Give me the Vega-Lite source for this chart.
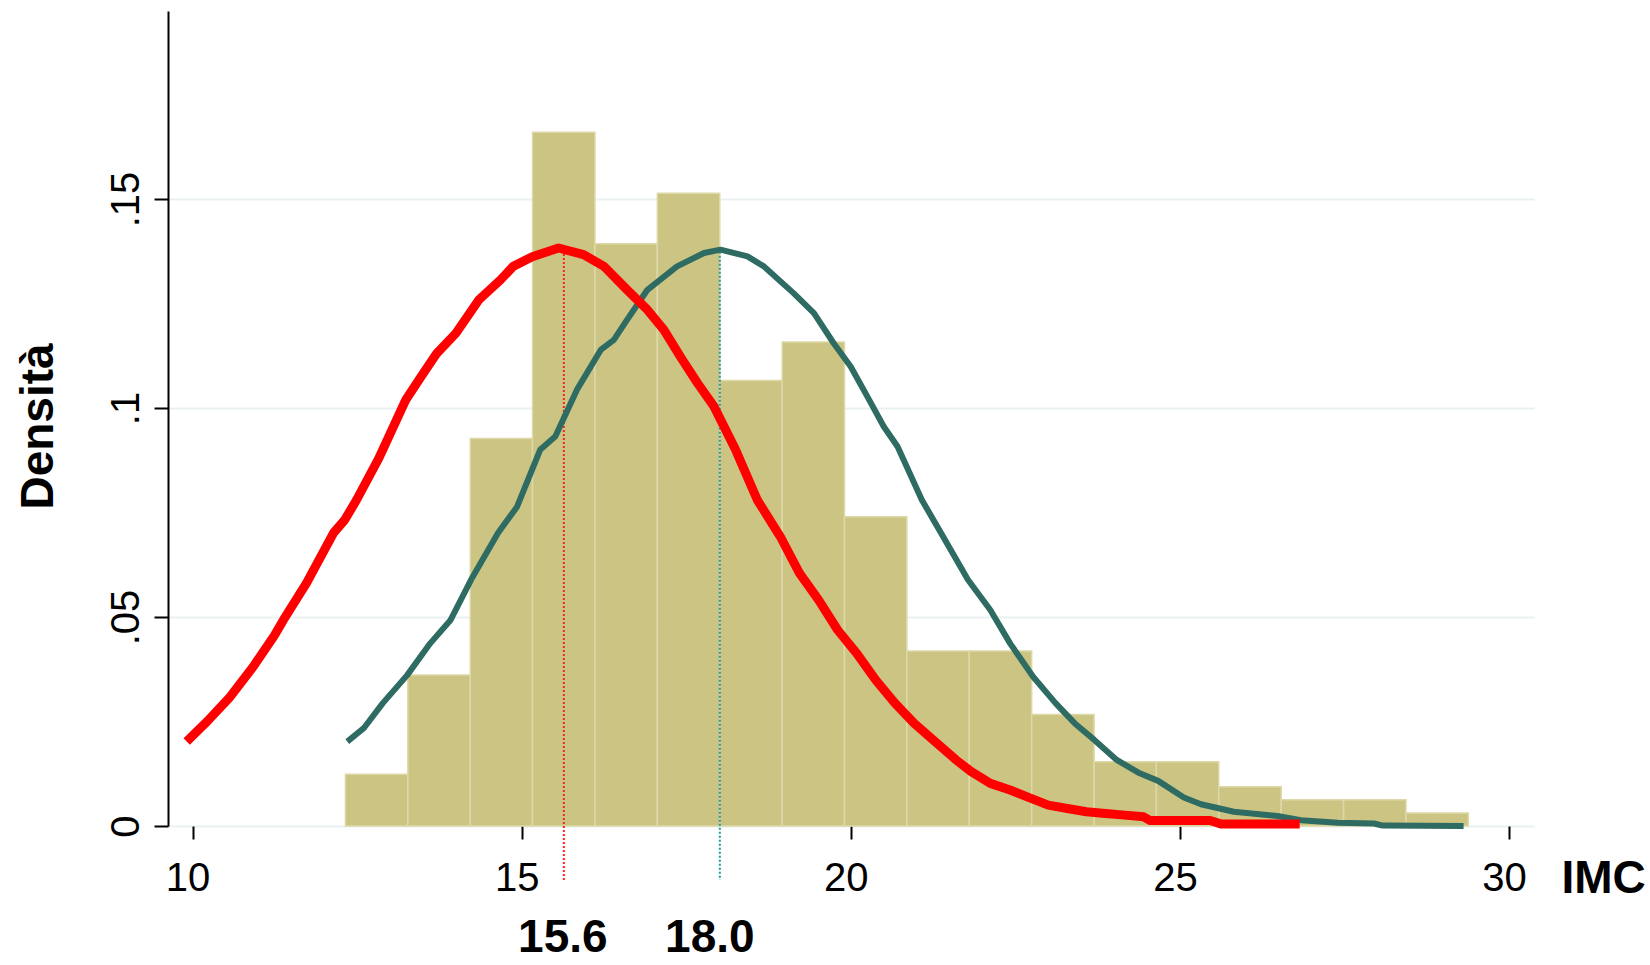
{
  "$schema": "https://vega.github.io/schema/vega-lite/v6.json",
  "width": 1366,
  "height": 815,
  "autosize": "none",
  "padding": {"left": 168, "top": 11, "right": 116, "bottom": 139},
  "background": "white",
  "config": {
    "view": {"stroke": null},
    "font": "Liberation Sans",
    "axis": {"labelFont": "Liberation Sans", "titleFont": "Liberation Sans"}
  },
  "datasets": {
    "istogramma": [
      {"inizio": 12.322, "fine": 13.270, "densita": 0.0124},
      {"inizio": 13.270, "fine": 14.218, "densita": 0.0361},
      {"inizio": 14.218, "fine": 15.165, "densita": 0.0927},
      {"inizio": 15.165, "fine": 16.113, "densita": 0.1660},
      {"inizio": 16.113, "fine": 17.061, "densita": 0.1393},
      {"inizio": 17.061, "fine": 18.009, "densita": 0.1514},
      {"inizio": 18.009, "fine": 18.957, "densita": 0.1066},
      {"inizio": 18.957, "fine": 19.904, "densita": 0.1158},
      {"inizio": 19.904, "fine": 20.852, "densita": 0.0740},
      {"inizio": 20.852, "fine": 21.800, "densita": 0.0419},
      {"inizio": 21.800, "fine": 22.748, "densita": 0.0419},
      {"inizio": 22.748, "fine": 23.696, "densita": 0.0267},
      {"inizio": 23.696, "fine": 24.643, "densita": 0.0154},
      {"inizio": 24.643, "fine": 25.591, "densita": 0.0154},
      {"inizio": 25.591, "fine": 26.539, "densita": 0.0094},
      {"inizio": 26.539, "fine": 27.487, "densita": 0.0063},
      {"inizio": 27.487, "fine": 28.435, "densita": 0.0063},
      {"inizio": 28.435, "fine": 29.382, "densita": 0.0031}
    ],
    "curva_verde": [
      {"imc": 12.35, "densita": 0.0202},
      {"imc": 12.60, "densita": 0.0234},
      {"imc": 12.89, "densita": 0.0294},
      {"imc": 13.26, "densita": 0.0361},
      {"imc": 13.61, "densita": 0.0437},
      {"imc": 13.92, "densita": 0.0493},
      {"imc": 14.23, "densita": 0.0589},
      {"imc": 14.64, "densita": 0.0701},
      {"imc": 14.93, "densita": 0.0764},
      {"imc": 15.28, "densita": 0.0900},
      {"imc": 15.51, "densita": 0.0932},
      {"imc": 15.84, "densita": 0.1044},
      {"imc": 16.20, "densita": 0.1139},
      {"imc": 16.40, "densita": 0.1163},
      {"imc": 16.60, "densita": 0.1211},
      {"imc": 16.91, "densita": 0.1283},
      {"imc": 17.36, "densita": 0.1339},
      {"imc": 17.77, "densita": 0.1371},
      {"imc": 18.02, "densita": 0.1379},
      {"imc": 18.43, "densita": 0.1363},
      {"imc": 18.68, "densita": 0.1339},
      {"imc": 19.13, "densita": 0.1275},
      {"imc": 19.44, "densita": 0.1227},
      {"imc": 19.74, "densita": 0.1155},
      {"imc": 20.00, "densita": 0.1099},
      {"imc": 20.25, "densita": 0.1028},
      {"imc": 20.50, "densita": 0.0956},
      {"imc": 20.71, "densita": 0.0908},
      {"imc": 21.08, "densita": 0.0780},
      {"imc": 21.43, "densita": 0.0685},
      {"imc": 21.78, "densita": 0.0589},
      {"imc": 22.12, "densita": 0.0517},
      {"imc": 22.42, "densita": 0.0437},
      {"imc": 22.77, "densita": 0.0357},
      {"imc": 23.11, "densita": 0.0294},
      {"imc": 23.40, "densita": 0.0246},
      {"imc": 23.70, "densita": 0.0206},
      {"imc": 24.04, "densita": 0.0158},
      {"imc": 24.39, "densita": 0.0126},
      {"imc": 24.67, "densita": 0.0108},
      {"imc": 25.06, "densita": 0.0068},
      {"imc": 25.32, "densita": 0.0052},
      {"imc": 25.82, "densita": 0.0034},
      {"imc": 26.48, "densita": 0.0024},
      {"imc": 26.84, "densita": 0.0014},
      {"imc": 27.40, "densita": 0.0008},
      {"imc": 27.95, "densita": 0.0006},
      {"imc": 28.08, "densita": 0.0001},
      {"imc": 29.31, "densita": 0.0000}
    ],
    "curva_rossa": [
      {"imc": 9.91, "densita": 0.0202},
      {"imc": 10.22, "densita": 0.0250},
      {"imc": 10.57, "densita": 0.0309},
      {"imc": 10.92, "densita": 0.0381},
      {"imc": 11.24, "densita": 0.0455},
      {"imc": 11.38, "densita": 0.0493},
      {"imc": 11.73, "densita": 0.0581},
      {"imc": 12.14, "densita": 0.0701},
      {"imc": 12.31, "densita": 0.0732},
      {"imc": 12.49, "densita": 0.0780},
      {"imc": 12.83, "densita": 0.0880},
      {"imc": 13.24, "densita": 0.1020},
      {"imc": 13.47, "densita": 0.1075},
      {"imc": 13.71, "densita": 0.1131},
      {"imc": 14.00, "densita": 0.1179},
      {"imc": 14.35, "densita": 0.1259},
      {"imc": 14.68, "densita": 0.1307},
      {"imc": 14.87, "densita": 0.1339},
      {"imc": 15.16, "densita": 0.1362},
      {"imc": 15.56, "densita": 0.1383},
      {"imc": 15.94, "densita": 0.1367},
      {"imc": 16.25, "densita": 0.1339},
      {"imc": 16.60, "densita": 0.1283},
      {"imc": 16.91, "densita": 0.1235},
      {"imc": 17.16, "densita": 0.1187},
      {"imc": 17.41, "densita": 0.1123},
      {"imc": 17.67, "densita": 0.1060},
      {"imc": 17.92, "densita": 0.1004},
      {"imc": 18.25, "densita": 0.0900},
      {"imc": 18.58, "densita": 0.0780},
      {"imc": 18.93, "densita": 0.0692},
      {"imc": 19.22, "densita": 0.0605},
      {"imc": 19.51, "densita": 0.0541},
      {"imc": 19.80, "densita": 0.0469},
      {"imc": 20.09, "densita": 0.0413},
      {"imc": 20.38, "densita": 0.0349},
      {"imc": 20.67, "densita": 0.0294},
      {"imc": 20.96, "densita": 0.0246},
      {"imc": 21.25, "densita": 0.0206},
      {"imc": 21.60, "densita": 0.0158},
      {"imc": 21.83, "densita": 0.0130},
      {"imc": 22.12, "densita": 0.0102},
      {"imc": 22.42, "densita": 0.0086},
      {"imc": 22.71, "densita": 0.0068},
      {"imc": 23.00, "densita": 0.0050},
      {"imc": 23.29, "densita": 0.0042},
      {"imc": 23.58, "densita": 0.0034},
      {"imc": 23.87, "densita": 0.0030},
      {"imc": 24.16, "densita": 0.0026},
      {"imc": 24.45, "densita": 0.0022},
      {"imc": 24.55, "densita": 0.0013},
      {"imc": 25.46, "densita": 0.0013},
      {"imc": 25.62, "densita": 0.0005},
      {"imc": 26.82, "densita": 0.0005}
    ],
    "medie": [
      {"gruppo": "rosso", "media": 15.64, "picco": 0.1378, "etichetta": "15.6"},
      {"gruppo": "verde", "media": 18.01, "picco": 0.1374, "etichetta": "18.0"}
    ]
  },
  "layer": [
    {
      "data": {"name": "istogramma"},
      "mark": {"type": "rect", "fill": "#CCC482", "stroke": "#DDD8A8", "strokeWidth": 1.5},
      "encoding": {
        "x": {
          "field": "inizio", "type": "quantitative",
          "scale": {"domain": [9.626, 30.38], "nice": false, "zero": false},
          "axis": {
            "values": [10, 15, 20, 25, 30],
            "format": "d",
            "domain": false,
            "grid": false,
            "ticks": true, "tickSize": 13, "tickWidth": 2, "tickColor": "black",
            "labelFontSize": 40, "labelColor": "black",
            "labelBaseline": "alphabetic", "labelPadding": 51, "labelOffset": -5,
            "labelFlush": false, "labelOverlap": false,
            "title": "IMC", "titleFontSize": 46, "titleFontWeight": "bold", "titleColor": "black",
            "titleAnchor": "start", "titleAlign": "left", "titleBaseline": "alphabetic",
            "titleX": 1393, "titleY": 66
          }
        },
        "x2": {"field": "fine"},
        "y": {
          "field": "densita", "type": "quantitative",
          "scale": {"domain": [0, 0.195], "nice": false},
          "axis": {
            "values": [0, 0.05, 0.1, 0.15],
            "labelExpr": "datum.value == 0 ? '0' : replace(format(datum.value, '.2~f'), '0.', '.')",
            "domain": true, "domainColor": "black", "domainWidth": 2,
            "grid": true, "gridColor": "#E9F1F3", "gridWidth": 2,
            "ticks": true, "tickSize": 14, "tickWidth": 2, "tickColor": "black",
            "labelFontSize": 40, "labelColor": "black", "labelAngle": 270,
            "labelAlign": "center", "labelBaseline": "alphabetic", "labelPadding": 16,
            "labelFlush": false, "labelOverlap": false,
            "title": "Densità", "titleFontSize": 46, "titleFontWeight": "bold", "titleColor": "black",
            "titleAngle": 270, "titleAlign": "center", "titleBaseline": "alphabetic",
            "titleX": -116, "titleY": 415
          }
        },
        "y2": {"datum": 0}
      }
    },
    {
      "mark": {"type": "rule", "color": "black", "strokeWidth": 2},
      "encoding": {"y": {"datum": 0}}
    },
    {
      "data": {"name": "medie"},
      "mark": {"type": "rule", "strokeWidth": 2, "strokeDash": [2, 2]},
      "encoding": {
        "x": {"field": "media", "type": "quantitative"},
        "y": {"field": "picco", "type": "quantitative"},
        "y2": {"datum": -0.0129},
        "color": {"field": "gruppo", "type": "nominal", "scale": {"domain": ["rosso", "verde"], "range": ["#FF2020", "#1A9A9A"]}, "legend": null}
      }
    },
    {
      "data": {"name": "curva_verde"},
      "mark": {"type": "line", "color": "#2E6B62", "strokeWidth": 6, "strokeCap": "butt", "strokeJoin": "round"},
      "encoding": {
        "x": {"field": "imc", "type": "quantitative"},
        "y": {"field": "densita", "type": "quantitative"}
      }
    },
    {
      "data": {"name": "curva_rossa"},
      "mark": {"type": "line", "color": "#FF0000", "strokeWidth": 9, "strokeCap": "butt", "strokeJoin": "round"},
      "encoding": {
        "x": {"field": "imc", "type": "quantitative"},
        "y": {"field": "densita", "type": "quantitative"}
      }
    },
    {
      "data": {"name": "medie"},
      "transform": [{"filter": "datum.gruppo == 'rosso'"}],
      "mark": {"type": "text", "fontSize": 46, "fontWeight": "bold", "color": "black", "align": "center", "baseline": "alphabetic", "font": "Liberation Sans", "dx": -1},
      "encoding": {
        "x": {"field": "media", "type": "quantitative"},
        "y": {"datum": -0.0302},
        "text": {"field": "etichetta"}
      }
    },
    {
      "data": {"name": "medie"},
      "transform": [{"filter": "datum.gruppo == 'verde'"}],
      "mark": {"type": "text", "fontSize": 46, "fontWeight": "bold", "color": "black", "align": "center", "baseline": "alphabetic", "font": "Liberation Sans", "dx": -10},
      "encoding": {
        "x": {"field": "media", "type": "quantitative"},
        "y": {"datum": -0.0302},
        "text": {"field": "etichetta"}
      }
    }
  ]
}
